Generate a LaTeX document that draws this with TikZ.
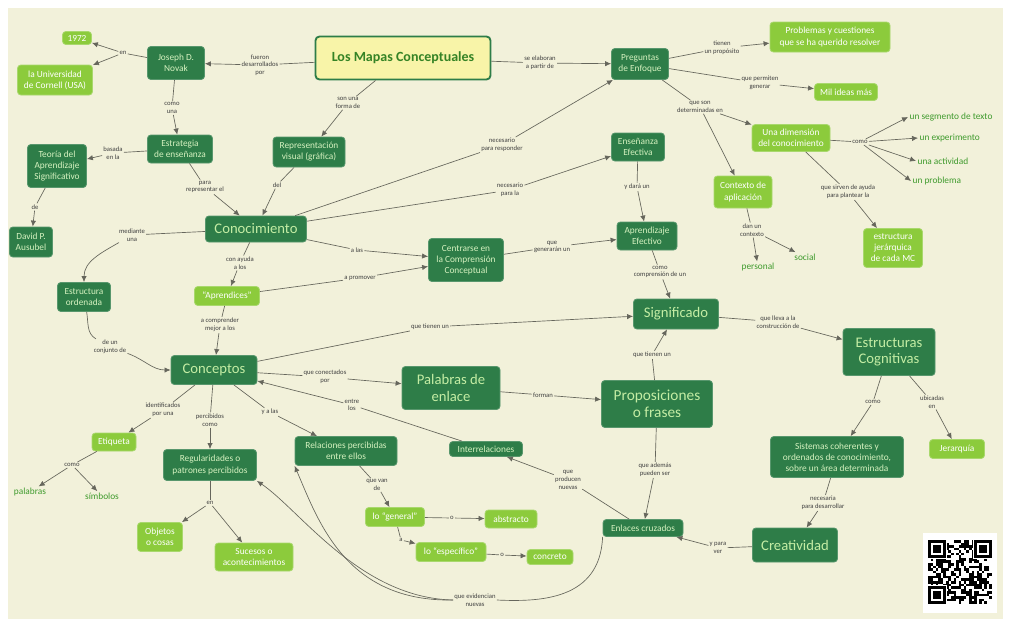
\documentclass[tikz,border=0pt]{standalone}
\usepackage{fontspec}
\setmainfont{Carlito}
\usetikzlibrary{arrows.meta}
\definecolor{bg}{HTML}{F2F1DA}
\definecolor{dkg}{HTML}{2E7D48}
\definecolor{lig}{HTML}{8CCB3C}
\definecolor{ttl}{HTML}{F8F4A8}
\definecolor{dtx}{HTML}{D6F2C0}
\definecolor{btx}{HTML}{C4EDA4}
\definecolor{gtx}{HTML}{3E9A2C}
\definecolor{ln}{HTML}{66665C}
\newcommand\lnk[3]{\draw[ed] (#1) -- (#2); \draw[ar] (#2) -- (#3);}
\begin{document}
\begin{tikzpicture}[x=0.75pt,y=-0.75pt,
 wh/.style 2 args={minimum width=#1*0.75pt, minimum height=#2*0.75pt},
 dk/.style={rounded corners=2.5pt, fill=dkg, draw=dkg!80!white, line width=0.6pt, text=dtx, align=center, inner sep=1pt, font=\fontsize{7}{8.3}\selectfont},
 big/.style={dk, text=btx, font=\fontsize{11}{12.5}\selectfont},
 tt/.style={rounded corners=3pt, fill=ttl, draw=dkg, line width=1.4pt, text=gtx!85!black, font=\bfseries\fontsize{10.5}{12}\selectfont},
 lt/.style={rounded corners=2.5pt, fill=lig, draw=lig!75!white, line width=0.6pt, text=white, align=center, inner sep=1pt, font=\fontsize{7}{8.3}\selectfont},
 gt/.style={text=gtx, font=\fontsize{7}{8}\selectfont, inner sep=1pt},
 lb/.style={fill=bg, text=black!75, align=center, inner sep=0.8pt, font=\fontsize{5}{5.8}\selectfont},
 ed/.style={draw=ln, line width=0.5pt},
 ar/.style={ed, -{Latex[length=4.5pt,width=4pt]}},
]
\useasboundingbox (0,0) rectangle (1009,625);
\fill[white] (0,0) rectangle (1009,625);
\fill[bg] (8,8) rectangle (1003,619);

% ---- concept nodes
\node[tt, wh={175}{43}] (map) at (403,58) {Los Mapas Conceptuales};
\node[dk, wh={57}{33}] (nov) at (176,63) {Joseph D.\\Novak};
\node[lt, wh={29}{13}] (y72) at (77,38) {1972};
\node[lt, wh={75}{30}] (cor) at (55,80) {la Universidad\\de Cornell (USA)};
\node[dk, wh={65}{28}] (est) at (180,149) {Estrategia\\de enseñanza};
\node[dk, wh={59}{43}] (teo) at (57,166) {Teoría del\\Aprendizaje\\Significativo};
\node[dk, wh={43}{30}] (aus) at (31,242) {David P.\\Ausubel};
\node[dk, wh={72}{30}] (rep) at (309,152) {Representación\\visual (gráfica)};
\node[big, wh={101}{26}] (con) at (256,229) {Conocimiento};
\node[dk, wh={57}{31}] (pre) at (640,64) {Preguntas\\de Enfoque};
\node[lt, wh={120}{30}] (pro) at (830,37) {Problemas y cuestiones\\que se ha querido resolver};
\node[lt, wh={63}{17}] (mil) at (846,92) {Mil ideas más};
\node[lt, wh={78}{27}] (dim) at (791,138) {Una dimensión\\del conocimiento};
\node[lt, wh={58}{32}] (ctx) at (743,192) {Contexto de\\aplicación};
\node[gt] (per) at (758,267) {personal};
\node[gt] (soc) at (805,257) {social};
\node[gt, anchor=west] (i1) at (908,117) {un segmento de texto};
\node[gt, anchor=west] (i2) at (918,138) {un experimento};
\node[gt, anchor=west] (i3) at (916,161) {una actividad};
\node[gt, anchor=west] (i4) at (911,181) {un problema};
\node[lt, wh={59}{39}] (jer) at (893,248) {estructura\\jerárquica\\de cada MC};
\node[dk, wh={53}{28}] (ens) at (638,147) {Enseñanza\\Efectiva};
\node[dk, wh={75}{43}] (cen) at (466,260) {Centrarse en\\la Comprensión\\Conceptual};
\node[dk, wh={60}{28}] (apr) at (647,236) {Aprendizaje\\Efectivo};
\node[big, wh={85}{30}] (sig) at (676,314) {Significado};
\node[big, wh={92}{47}] (ec) at (889,352) {Estructuras\\Cognitivas};
\node[big, wh={111}{47}, font=\fontsize{11.5}{13}\selectfont] (prop) at (657,404) {Proposiciones\\o frases};
\node[big, wh={98}{43}] (pal) at (451,388) {Palabras de\\enlace};
\node[big, wh={86}{29}] (cpt) at (214,370) {Conceptos};
\node[dk, wh={53}{29}] (eo) at (84,297) {Estructura\\ordenada};
\node[lt, wh={65}{19}] (apz) at (227,296) {“Aprendices”};
\node[lt, wh={44}{18}] (eti) at (114,442) {Etiqueta};
\node[gt] (pa) at (30,492) {palabras};
\node[gt] (si) at (102,496) {símbolos};
\node[dk, wh={93}{31}] (reg) at (210,465) {Regularidades o\\patrones percibidos};
\node[lt, wh={45}{29}] (obj) at (160,537) {Objetos\\o cosas};
\node[lt, wh={78}{28}] (suc) at (254,557) {Sucesos o\\acontecimientos};
\node[dk, wh={102}{29}] (rel) at (346,451) {Relaciones percibidas\\entre ellos};
\node[dk, wh={73}{15}] (int) at (486,449) {Interrelaciones};
\node[lt, wh={59}{19}] (gen) at (395,517) {lo “general”};
\node[lt, wh={52}{18}] (abs) at (511,519) {abstracto};
\node[lt, wh={70}{19}] (esp) at (451,552) {lo “específico”};
\node[lt, wh={46}{15}] (cto) at (550,557) {concreto};
\node[dk, wh={80}{17}] (enl) at (643,528) {Enlaces cruzados};
\node[dk, wh={133}{41}] (sis) at (837,457) {Sistemas coherentes y\\ordenados de conocimiento,\\sobre un área determinada};
\node[lt, wh={55}{19}] (jq) at (957,449) {Jerarquía};
\node[big, wh={85}{34}] (cre) at (795,545) {Creatividad};

% ---- linking phrases
\node[lb] (l1) at (260,65) {fueron\\desarrollados\\por};
\node[lb] (l2) at (123,53) {en};
\node[lb] (l3) at (172,108) {como\\una};
\node[lb] (l4) at (113,153) {basada\\en la};
\node[lb] (l5) at (35,207) {de};
\node[lb] (l6) at (205,187) {para\\representar el};
\node[lb] (l7) at (348,103) {son una\\forma de};
\node[lb] (l8) at (277,185) {del};
\node[lb] (l9) at (540,63) {se elaboran\\a partir de};
\node[lb] (l10) at (502,145) {necesario\\para responder};
\node[lb] (l11) at (510,190) {necesario\\para la};
\node[lb] (l12) at (637,187) {y dará un};
\node[lb] (l13) at (722,48) {tienen\\un propósito};
\node[lb] (l14) at (760,83) {que permiten\\generar};
\node[lb] (l15) at (700,107) {que son\\determinadas en};
\node[lb] (l16) at (860,142) {como};
\node[lb] (l17) at (848,192) {que sirven de ayuda\\para plantear la};
\node[lb] (l18) at (752,230) {dan un\\contexto};
\node[lb] (l19) at (132,235) {mediante\\una};
\node[lb] (l20) at (240,263) {con ayuda\\a los};
\node[lb] (l21) at (220,325) {a comprender\\mejor a los};
\node[lb] (l22) at (357,250) {a las};
\node[lb] (l23) at (360,278) {a promover};
\node[lb] (l24) at (552,247) {que\\generarán un};
\node[lb] (l25) at (660,272) {como\\comprensión de un};
\node[lb] (l26) at (110,347) {de un\\conjunto de};
\node[lb] (l27) at (430,327) {que tienen un};
\node[lb] (l28) at (325,377) {que conectados\\por};
\node[lb] (l29) at (543,395) {forman};
\node[lb] (l30) at (352,405) {entre\\los};
\node[lb] (l31) at (652,355) {que tienen un};
\node[lb] (l32) at (778,322) {que lleva a la\\construcción de};
\node[lb] (l33) at (873,402) {como};
\node[lb] (l34) at (932,402) {ubicadas\\en};
\node[lb] (l35) at (163,410) {identificados\\por una};
\node[lb] (l36) at (210,420) {percibidos\\como};
\node[lb] (l37) at (270,412) {y a las};
\node[lb] (l38) at (72,465) {como};
\node[lb] (l39) at (210,503) {en};
\node[lb] (l40) at (377,485) {que van\\de};
\node[lb] (l41) at (452,518) {o};
\node[lb] (l42) at (401,540) {a};
\node[lb] (l43) at (502,555) {o};
\node[lb] (l44) at (568,480) {que\\producen\\nuevas};
\node[lb] (l45) at (655,470) {que además\\pueden ser};
\node[lb] (l46) at (718,548) {y para\\ver};
\node[lb] (l47) at (823,503) {necesaria\\para desarrollar};
\node[lb] (l48) at (475,600) {que evidencian\\nuevas};

% ---- connectors
\lnk{map}{l1}{nov}
\draw[ed] (nov) -- (l2); \draw[ar] (l2) -- (y72); \draw[ar] (l2) -- (cor);
\lnk{nov}{l3}{est}
\lnk{est}{l4}{teo}
\lnk{teo}{l5}{aus}
\lnk{est}{l6}{con}
\lnk{map}{l7}{rep}
\lnk{rep}{l8}{con}
\lnk{map}{l9}{pre}
\lnk{con}{l10}{pre}
\lnk{con}{l11}{ens}
\lnk{ens}{l12}{apr}
\lnk{pre}{l13}{pro}
\lnk{pre}{l14}{mil}
\draw[ed] (pre) -- (l15); \draw[ar] (l15) -- (dim); \draw[ar] (l15) -- (ctx);
\draw[ed] (dim) -- (l16);
\draw[ar] (l16) -- (i1.west); \draw[ar] (l16) -- (i2.west); \draw[ar] (l16) -- (i3.west); \draw[ar] (l16) -- (i4.west);
\lnk{dim}{l17}{jer}
\draw[ed] (ctx) -- (l18); \draw[ar] (l18) -- (per); \draw[ar] (l18) -- (soc);
\draw[ed] (con) -- (l19); \draw[ar] (l19) to[out=-150,in=90] (eo.north);
\lnk{con}{l20}{apz}
\lnk{apz}{l21}{cpt}
\lnk{con}{l22}{cen}
\lnk{apz}{l23}{cen}
\lnk{cen}{l24}{apr}
\lnk{apr}{l25}{sig}
\draw[ed] (eo) to[out=-80,in=150] (l26); \draw[ar] (l26) to[out=-20,in=180] (cpt.west);
\lnk{cpt}{l27}{sig}
\lnk{cpt}{l28}{pal}
\lnk{pal}{l29}{prop}
\lnk{int}{l30}{cpt}
\lnk{prop}{l31}{sig}
\lnk{sig}{l32}{ec}
\lnk{ec}{l33}{sis}
\lnk{ec}{l34}{jq}
\lnk{cpt}{l35}{eti}
\lnk{cpt}{l36}{reg}
\lnk{cpt}{l37}{rel}
\draw[ed] (eti) -- (l38); \draw[ar] (l38) -- (pa); \draw[ar] (l38) -- (si);
\draw[ed] (reg) -- (l39); \draw[ar] (l39) -- (obj); \draw[ar] (l39) -- (suc);
\lnk{rel}{l40}{gen}
\lnk{gen}{l41}{abs}
\lnk{gen}{l42}{esp}
\lnk{esp}{l43}{cto}
\lnk{enl}{l44}{int}
\lnk{prop}{l45}{enl}
\lnk{cre}{l46}{enl}
\lnk{sis}{l47}{cre}
\draw[ed] (enl.south west) .. controls (600,600) and (540,602) .. (l48.east);
\draw[ar] (l48.west) .. controls (360,598) and (300,510) .. (reg.south east);
\draw[ar] (l48.west) .. controls (345,602) and (318,520) .. (rel.south west);

% ---- QR code
\fill[white] (923,533) rectangle (997,613);
\pgfmathsetseed{4711}
\foreach \qi in {0,...,24}{\foreach \qj in {0,...,24}{%
  \pgfmathrandominteger{\qr}{0}{1}%
  \ifnum\qr=1 \fill[black] ({928+\qi*2.56},{540+\qj*2.56}) rectangle ++(2.6,2.6); \fi
}}
\foreach \qa/\qb in {0/0,18/0,0/18}{
  \fill[white] ({928+(\qa-0.5)*2.56},{540+(\qb-0.5)*2.56}) rectangle ++(20.5,20.5);
  \fill[black] ({928+\qa*2.56},{540+\qb*2.56}) rectangle ++(17.92,17.92);
  \fill[white] ({928+(\qa+1)*2.56},{540+(\qb+1)*2.56}) rectangle ++(12.8,12.8);
  \fill[black] ({928+(\qa+2)*2.56},{540+(\qb+2)*2.56}) rectangle ++(7.68,7.68);
}
\end{tikzpicture}
\end{document}
